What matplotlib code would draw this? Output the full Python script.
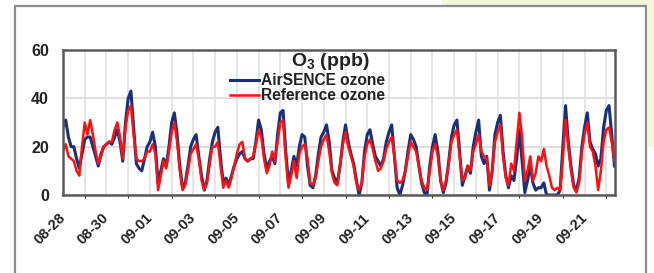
import matplotlib
matplotlib.use('Agg')
import matplotlib.pyplot as plt
import matplotlib.dates as mdates
import matplotlib.patches as patches
import pandas as pd

# 3-hourly readings from 2020-08-28 00:00 (ppb)
airsence = [
    28, 31, 24, 20, 20, 15, 11, 17,
    23, 24, 24, 20, 16, 12, 17, 20,
    21, 22, 21, 24, 27, 22, 14, 30,
    40, 43, 28, 13, 11, 10, 15, 20,
    22, 26, 20, 5, 10, 15, 12, 20,
    30, 34, 25, 12, 3, 5, 12, 20,
    23, 25, 16, 8, 2, 6, 15, 22,
    26, 28, 15, 5, 7, 4, 8, 12,
    15, 17, 18, 15, 14, 15, 15, 22,
    31, 27, 17, 11, 14, 16, 13, 25,
    34, 35, 18, 5, 10, 16, 12, 20,
    25, 24, 12, 4, 3, 8, 17, 24,
    26, 29, 22, 10, 7, 5, 12, 22,
    29, 22, 17, 13, 6, 0, 5, 18,
    25, 27, 21, 16, 14, 12, 15, 22,
    26, 29, 16, 3, 0, 4, 10, 18,
    25, 23, 20, 12, 5, 1, 0, 12,
    20, 25, 18, 6, 1, 5, 14, 24,
    29, 31, 18, 4, 8, 12, 9, 20,
    26, 31, 16, 13, 16, 2, 10, 25,
    30, 33, 18, 8, 3, 8, 6, 15,
    27, 14, 1, 6, 12, 5, 2, 3,
    3, 5, 0, 0, 0, 0, 0, 2,
    20, 37, 22, 12, 4, 2, 7, 20,
    28, 34, 22, 19, 17, 12, 15, 28,
    35, 37, 25, 12,
]
reference = [
    18, 21, 16, 15, 14, 10, 8, 20,
    30, 25, 31, 25, 18, 13, 16, 20,
    21, 22, 22, 27, 30, 24, 15, 28,
    35, 37, 25, 15, 14, 14, 15, 18,
    18, 21, 17, 2, 8, 14, 11, 18,
    26, 30, 22, 10, 2, 4, 10, 17,
    19, 21, 15, 6, 2, 5, 13, 20,
    20, 22, 12, 3, 6, 3, 7, 12,
    17, 21, 22, 15, 14, 15, 16, 21,
    27, 24, 15, 9, 12, 18, 14, 22,
    30, 31, 15, 3, 8, 14, 7, 17,
    20, 21, 15, 5, 4, 7, 14, 20,
    23, 25, 18, 9, 5, 4, 13, 21,
    26, 20, 16, 12, 5, 2, 5, 16,
    21, 23, 19, 14, 10, 11, 14, 19,
    22, 24, 16, 6, 5, 6, 10, 16,
    22, 20, 18, 12, 6, 3, 2, 10,
    18, 21, 16, 6, 2, 6, 13, 22,
    25, 27, 16, 6, 7, 12, 10, 18,
    21, 25, 18, 16, 15, 4, 10, 22,
    26, 29, 16, 7, 4, 13, 10, 22,
    34, 24, 6, 10, 16, 6, 9, 16,
    14, 19, 12, 8, 3, 2, 3, 2,
    15, 31, 20, 10, 3, 1, 5, 18,
    25, 30, 20, 18, 12, 2, 10, 22,
    27, 28, 22, 14,
]
times = pd.date_range('2020-08-28', periods=len(airsence), freq='3h')

plt.rcParams['font.family'] = ['Liberation Sans', 'DejaVu Sans']
plt.rcParams['font.weight'] = 'bold'
plt.rcParams['mathtext.fontset'] = 'custom'
plt.rcParams['mathtext.rm'] = 'Liberation Sans:bold'
plt.rcParams['mathtext.bf'] = 'Liberation Sans:bold'

W, H = 654, 273
fig = plt.figure(figsize=(W / 100, H / 100), dpi=100)

# page background bits around the chart box
fig.add_artist(patches.Rectangle((442 / W, 1 - 6 / H), 1, 1, color='#f4f6dc', lw=0))
fig.add_artist(patches.Rectangle((648 / W, 1 - 147 / H), 1, 1, color='#f4f6dc', lw=0))
fig.add_artist(patches.Rectangle((15 / W, -0.2), (646 - 15) / W, 1.2 - 6 / H,
                                 fill=False, edgecolor='#8c8c8c', lw=1.6))

ax = fig.add_axes([63 / W, 1 - 195 / H, (615 - 63) / W, (195 - 50) / H])
ax.plot(times, airsence, color='#1b2f78', lw=2.2, label='AirSENCE ozone')
ax.plot(times, reference, color='#ff1010', lw=1.8, label='Reference ozone')

ax.set_ylim(0, 60)
ax.set_yticks([0, 20, 40, 60])
ax.set_xlim(pd.Timestamp('2020-08-28'), pd.Timestamp('2020-08-28') + pd.Timedelta(days=25.4))
ax.xaxis.set_major_locator(mdates.DayLocator(interval=2))
ax.xaxis.set_minor_locator(mdates.DayLocator())
ax.xaxis.set_major_formatter(mdates.DateFormatter('%m-%d'))
ax.grid(True, which='both', axis='x', color='#e4e4e4', lw=1.3)
ax.grid(True, axis='y', color='#dcdcdc', lw=1.3)
ax.set_axisbelow(True)
ax.tick_params(axis='both', length=0, colors='#222222')
ax.tick_params(axis='y', pad=10, labelsize=11.5)
ax.tick_params(axis='x', pad=15, labelsize=10.5)
for lab in ax.get_xticklabels():
    lab.set_rotation(45)
    lab.set_ha('right')
    lab.set_va('center')
    lab.set_rotation_mode('anchor')
for s in ax.spines.values():
    s.set_color('#5a5a5a')
    s.set_linewidth(1.8)

fig.text(330 / W, 1 - 62 / H, r'O$_{3}$ (ppb)', ha='center', va='center',
         fontsize=14, fontweight='bold', color='#222222')
ax.legend(loc='upper left', bbox_to_anchor=(230 / W, 1 - 73 / H),
          bbox_transform=fig.transFigure, frameon=False, fontsize=11.2,
          handlelength=1.85, handletextpad=0.15, labelspacing=0.0,
          borderpad=0, borderaxespad=0, labelcolor='#222222')

fig.savefig('out.png', dpi=100)
